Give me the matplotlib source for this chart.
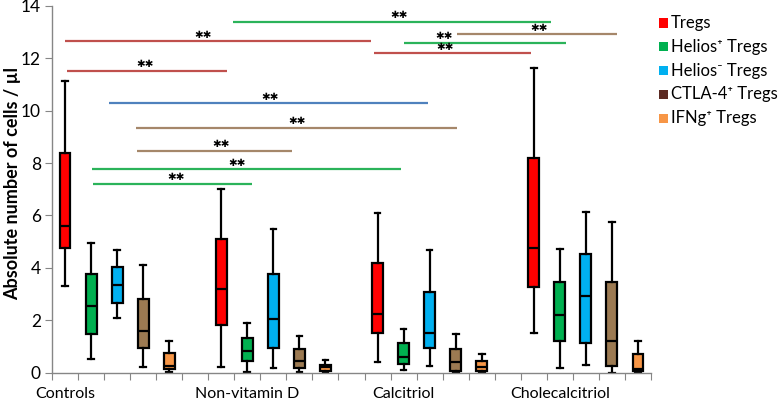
import matplotlib
matplotlib.use("Agg")
import matplotlib.pyplot as plt
from matplotlib.patches import Rectangle

plt.rcParams['font.family'] = ['Lato', 'DejaVu Sans']

groups = ["Controls", "Non-vitamin D", "Calcitriol", "Cholecalcitriol"]
series = ["Tregs", "Helios⁺ Tregs", "Helios⁻ Tregs", "CTLA-4⁺ Tregs", "IFNg⁺ Tregs"]

# each entry: [whisker low, Q1, median, Q3, whisker high]
controls = [
    [3.32, 4.74, 5.60, 8.37, 11.13],
    [0.52, 1.46, 2.54, 3.75, 4.95],
    [2.09, 2.65, 3.34, 4.02, 4.68],
    [0.20, 0.92, 1.58, 2.82, 4.10],
    [0.03, 0.12, 0.26, 0.73, 1.19],
]
non_vitamin_d = [
    [0.21, 1.80, 3.20, 5.11, 7.00],
    [0.03, 0.43, 0.81, 1.33, 1.88],
    [0.16, 0.94, 2.04, 3.78, 5.47],
    [0.03, 0.18, 0.43, 0.91, 1.41],
    [0.01, 0.06, 0.21, 0.29, 0.48],
]
calcitriol = [
    [0.41, 1.50, 2.25, 4.17, 6.10],
    [0.08, 0.31, 0.60, 1.14, 1.66],
    [0.25, 0.94, 1.50, 3.09, 4.69],
    [0.00, 0.05, 0.39, 0.91, 1.46],
    [0.00, 0.07, 0.20, 0.44, 0.72],
]
cholecalcitriol = [
    [1.51, 3.28, 4.76, 8.18, 11.64],
    [0.19, 1.22, 2.21, 3.47, 4.73],
    [0.29, 1.13, 2.94, 4.51, 6.12],
    [0.00, 0.25, 1.21, 3.47, 5.76],
    [0.00, 0.07, 0.13, 0.70, 1.20],
]
group_data = [controls, non_vitamin_d, calcitriol, cholecalcitriol]

# significance lines (slot units): level, start, end, star position
sig_y = [13.40, 12.65, 12.92, 12.60, 12.19, 11.52, 10.28, 9.35, 8.47, 7.77, 7.20]
sig_x0 = [6.95, 0.50, 15.55, 13.52, 12.37, 0.58, 2.19, 3.23, 3.26, 1.54, 1.57]
sig_x1 = [19.16, 12.24, 21.70, 19.74, 18.39, 6.72, 14.44, 15.55, 9.22, 13.40, 7.68]
sig_sx = [13.32, 5.82, 18.70, 15.07, 15.09, 3.59, 8.37, 9.43, 6.51, 7.12, 4.78]
sig_kind = ["green", "red", "brown", "green", "red", "red", "blue", "brown", "brown", "green", "green"]

box_colors = ["#ff0000", "#00b050", "#00b0f0", "#9c7a52", "#f79646"]
legend_colors = ["#ff0000", "#00b050", "#00b0f0", "#5c2a22", "#f79646"]
line_colors = {"green": "#2bb35a", "red": "#c0504d", "brown": "#a5876a", "blue": "#4f81bd"}

W, H = 778, 401
fig = plt.figure(figsize=(W / 100, H / 100), dpi=100)
ax = fig.add_axes([52 / W, 28.5 / H, (651 - 52) / W, (372.5 - 6) / H])

stats, positions, colors = [], [], []
for gi, gd in enumerate(group_data):
    for si, v in enumerate(gd):
        stats.append(dict(whislo=v[0], q1=v[1], med=v[2], q3=v[3], whishi=v[4], fliers=[]))
        positions.append(gi * 6 + si + 0.5)
        colors.append(box_colors[si])

bp = ax.bxp(stats, positions=positions, widths=0.42, patch_artist=True, showfliers=False,
            boxprops=dict(linewidth=1.6, edgecolor="black"),
            medianprops=dict(color="black", linewidth=1.6),
            whiskerprops=dict(color="black", linewidth=1.6),
            capprops=dict(color="black", linewidth=1.6), capwidths=0.22)
for patch, c in zip(bp["boxes"], colors):
    patch.set_facecolor(c)

for y, x0, x1, sx, k in zip(sig_y, sig_x0, sig_x1, sig_sx, sig_kind):
    ax.plot([x0, x1], [y, y], color=line_colors[k], lw=1.6, solid_capstyle="butt", clip_on=False)
    ax.text(sx, y + 0.25, "✱✱", ha="center", va="center", fontsize=7.5,
            family=["DejaVu Sans"], clip_on=False)

ax.set_xlim(0, 23)
ax.set_ylim(0, 14)
ax.set_xticks(range(0, 24))
ax.set_xticklabels([])
ax.set_yticks(range(0, 15, 2))
ax.tick_params(axis="y", labelsize=12.5, length=5, color="#868686", pad=3)
ax.tick_params(axis="x", length=5, color="#868686", direction="out")
for s in ["top", "right"]:
    ax.spines[s].set_visible(False)
for s in ["left", "bottom"]:
    ax.spines[s].set_color("#868686")
    ax.spines[s].set_linewidth(1.0)

label_pos = [0.5, 7.5, 13.5, 19.5]
for g, p in zip(groups, label_pos):
    ax.text(p, -0.97, g, ha="center", va="baseline", fontsize=11.5, clip_on=False)

ax.set_ylabel("Absolute number of cells / µl", fontsize=13, fontweight="bold")
ax.yaxis.set_label_coords(-0.052, 0.515)

# legend drawn manually
for i, (lab, c) in enumerate(zip(series, legend_colors)):
    yc = 23 + 23.8 * i
    fig.patches.append(Rectangle((659 / W, 1 - (yc + 4.5) / H), 9 / W, 9 / H,
                                 transform=fig.transFigure, facecolor=c, edgecolor="none"))
    fig.text(671 / W, 1 - yc / H, lab, ha="left", va="center", fontsize=12)

fig.savefig("out.png", dpi=100)
